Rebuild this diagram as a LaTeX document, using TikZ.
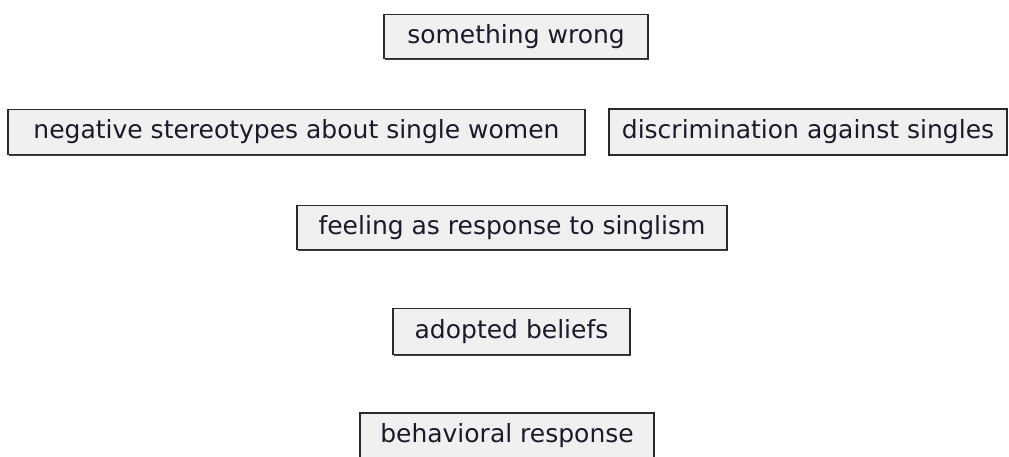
\documentclass[tikz,border=0pt]{standalone}
\usepackage{fontspec}
\setmainfont{DejaVu Sans}
\usetikzlibrary{shadows}
\definecolor{boxfill}{HTML}{F0F0F0}
\definecolor{boxline}{HTML}{2A2A2A}
\definecolor{txt}{HTML}{1A1A2A}
\tikzset{
  concept/.style={draw=boxline, line width=1.7pt, fill=boxfill, rectangle,
    inner sep=0pt, font=\fontsize{25}{29}\selectfont, text=txt,
    drop shadow={shadow xshift=1.4pt, shadow yshift=-1.4pt, fill=black!75, opacity=1}},
}
\begin{document}
\begin{tikzpicture}[x=1pt,y=-1pt]
\useasboundingbox (0,0) rectangle (1009,456);
\clip (0,0) rectangle (1009,456);
\node[concept, minimum width=264pt, minimum height=44pt] (wrong) at (516,36.5) {something wrong};
\node[concept, minimum width=577pt, minimum height=45pt] (stereo) at (296.5,132) {negative stereotypes about single women};
\node[concept, minimum width=398pt, minimum height=46pt] (discr) at (808,132) {discrimination against singles};
\node[concept, minimum width=430pt, minimum height=44pt] (feel) at (512,227.5) {feeling as response to singlism};
\node[concept, minimum width=237pt, minimum height=46pt] (adopt) at (511.5,331.5) {adopted beliefs};
\node[concept, minimum width=294pt, minimum height=46pt] (behav) at (507,436) {behavioral response};
\end{tikzpicture}
\end{document}
